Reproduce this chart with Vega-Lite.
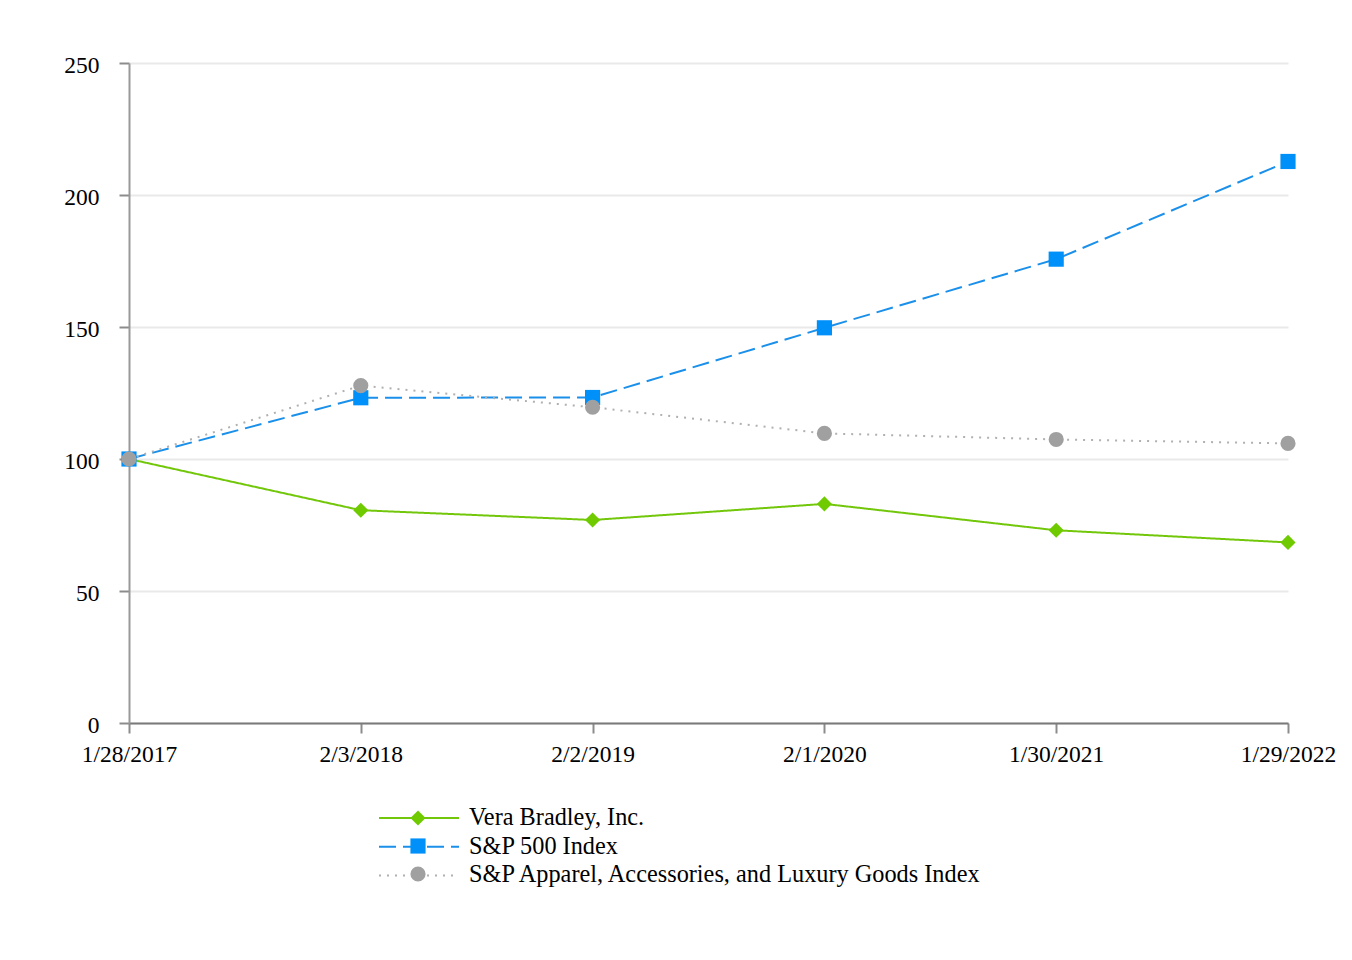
{
  "$schema": "https://vega.github.io/schema/vega-lite/v6.json",
  "description": "Five-year cumulative total return: Vera Bradley vs S&P indices",
  "width": 1159,
  "height": 660,
  "autosize": {"type": "none"},
  "padding": {"left": 129, "top": 63, "right": 64, "bottom": 237},
  "background": "white",
  "config": {
    "view": {"stroke": null},
    "font": "Liberation Serif",
    "axis": {"labelFont": "Liberation Serif", "labelFontSize": 23.5, "labelColor": "#000000"},
    "legend": {"labelFont": "Liberation Serif"}
  },
  "data": {
    "values": [
      {"date": "1/28/2017", "series": "Vera Bradley, Inc.", "value": 100},
      {"date": "2/3/2018", "series": "Vera Bradley, Inc.", "value": 80.6},
      {"date": "2/2/2019", "series": "Vera Bradley, Inc.", "value": 76.9},
      {"date": "2/1/2020", "series": "Vera Bradley, Inc.", "value": 83.0},
      {"date": "1/30/2021", "series": "Vera Bradley, Inc.", "value": 73.0},
      {"date": "1/29/2022", "series": "Vera Bradley, Inc.", "value": 68.4},
      {"date": "1/28/2017", "series": "S&P 500 Index", "value": 100},
      {"date": "2/3/2018", "series": "S&P 500 Index", "value": 123.2},
      {"date": "2/2/2019", "series": "S&P 500 Index", "value": 123.3},
      {"date": "2/1/2020", "series": "S&P 500 Index", "value": 149.7},
      {"date": "1/30/2021", "series": "S&P 500 Index", "value": 175.7},
      {"date": "1/29/2022", "series": "S&P 500 Index", "value": 212.7},
      {"date": "1/28/2017", "series": "S&P Apparel, Accessories, and Luxury Goods Index", "value": 100},
      {"date": "2/3/2018", "series": "S&P Apparel, Accessories, and Luxury Goods Index", "value": 127.8},
      {"date": "2/2/2019", "series": "S&P Apparel, Accessories, and Luxury Goods Index", "value": 119.6},
      {"date": "2/1/2020", "series": "S&P Apparel, Accessories, and Luxury Goods Index", "value": 109.7},
      {"date": "1/30/2021", "series": "S&P Apparel, Accessories, and Luxury Goods Index", "value": 107.4},
      {"date": "1/29/2022", "series": "S&P Apparel, Accessories, and Luxury Goods Index", "value": 105.9}
    ]
  },
  "encoding": {
    "x": {
      "field": "date",
      "type": "ordinal",
      "sort": null,
      "scale": {"type": "point", "padding": 0},
      "axis": {
        "title": null,
        "labelAngle": 0,
        "labelFont": "Liberation Serif",
        "labelFontSize": 23.5,
        "labelColor": "#000000",
        "labelPadding": 9,
        "tickSize": 10,
        "tickWidth": 2,
        "tickColor": "#8c8c8c",
        "domainColor": "#7a7a7a",
        "domainWidth": 2,
        "grid": false
      }
    },
    "y": {
      "field": "value",
      "type": "quantitative",
      "scale": {"domain": [0, 250]},
      "axis": {
        "title": null,
        "values": [0, 50, 100, 150, 200, 250],
        "labelFont": "Liberation Serif",
        "labelFontSize": 23.5,
        "labelColor": "#000000",
        "labelPadding": 20,
        "labelOffset": 2,
        "tickSize": 10,
        "tickWidth": 2,
        "tickColor": "#8c8c8c",
        "domainColor": "#999999",
        "domainWidth": 2,
        "grid": true,
        "gridColor": "#e9e9e9",
        "gridWidth": 2
      }
    }
  },
  "layer": [
    {
      "mark": {"type": "line", "strokeWidth": 2},
      "encoding": {
        "stroke": {
          "field": "series",
          "type": "nominal",
          "sort": null,
          "scale": {
            "domain": ["Vera Bradley, Inc.", "S&P 500 Index", "S&P Apparel, Accessories, and Luxury Goods Index"],
            "range": ["#72c70a", "#1a90ea", "#b0b0b0"]
          },
          "legend": {
            "title": null,
            "orient": "none",
            "legendX": 249,
            "legendY": 744,
            "padding": 0,
            "symbolType": "stroke",
            "symbolSize": 6400,
            "symbolStrokeWidth": 2,
            "clipHeight": 22,
            "rowPadding": 3.7,
            "labelOffset": 9,
            "labelFont": "Liberation Serif",
            "labelFontSize": 24.3,
            "labelColor": "#000000",
            "labelLimit": 800
          }
        },
        "strokeDash": {
          "field": "series",
          "type": "nominal",
          "sort": null,
          "scale": {
            "domain": ["Vera Bradley, Inc.", "S&P 500 Index", "S&P Apparel, Accessories, and Luxury Goods Index"],
            "range": [[1, 0], [17, 7], [2, 6]]
          },
          "legend": {
            "title": null,
            "orient": "none",
            "legendX": 249,
            "legendY": 744,
            "padding": 0,
            "symbolType": "stroke",
            "symbolSize": 6400,
            "symbolStrokeWidth": 2,
            "clipHeight": 22,
            "rowPadding": 3.7,
            "labelOffset": 9,
            "labelFont": "Liberation Serif",
            "labelFontSize": 24.3,
            "labelColor": "#000000",
            "labelLimit": 800
          }
        }
      }
    },
    {
      "mark": {"type": "point", "filled": true, "size": 230, "opacity": 1, "strokeWidth": 0},
      "encoding": {
        "fill": {
          "field": "series",
          "type": "nominal",
          "scale": {
            "domain": ["S&P 500 Index", "Vera Bradley, Inc.", "S&P Apparel, Accessories, and Luxury Goods Index"],
            "range": ["#0090fa", "#6fcb00", "#a0a0a0"]
          },
          "legend": {
            "title": null,
            "values": ["Vera Bradley, Inc.", "S&P 500 Index", "S&P Apparel, Accessories, and Luxury Goods Index"],
            "orient": "none",
            "legendX": 281,
            "legendY": 744,
            "padding": 0,
            "symbolSize": 230,
            "symbolStrokeWidth": 0,
            "symbolOpacity": 1,
            "clipHeight": 22,
            "rowPadding": 6,
            "labelOffset": 0,
            "labelFontSize": 1,
            "labelExpr": "''",
            "labelLimit": 10
          }
        },
        "shape": {
          "field": "series",
          "type": "nominal",
          "scale": {
            "domain": ["S&P 500 Index", "Vera Bradley, Inc.", "S&P Apparel, Accessories, and Luxury Goods Index"],
            "range": ["square", "diamond", "circle"]
          },
          "legend": {
            "title": null,
            "values": ["Vera Bradley, Inc.", "S&P 500 Index", "S&P Apparel, Accessories, and Luxury Goods Index"],
            "orient": "none",
            "legendX": 281,
            "legendY": 744,
            "padding": 0,
            "symbolSize": 230,
            "symbolStrokeWidth": 0,
            "symbolOpacity": 1,
            "clipHeight": 22,
            "rowPadding": 6,
            "labelOffset": 0,
            "labelFontSize": 1,
            "labelExpr": "''",
            "labelLimit": 10
          }
        }
      }
    }
  ]
}
